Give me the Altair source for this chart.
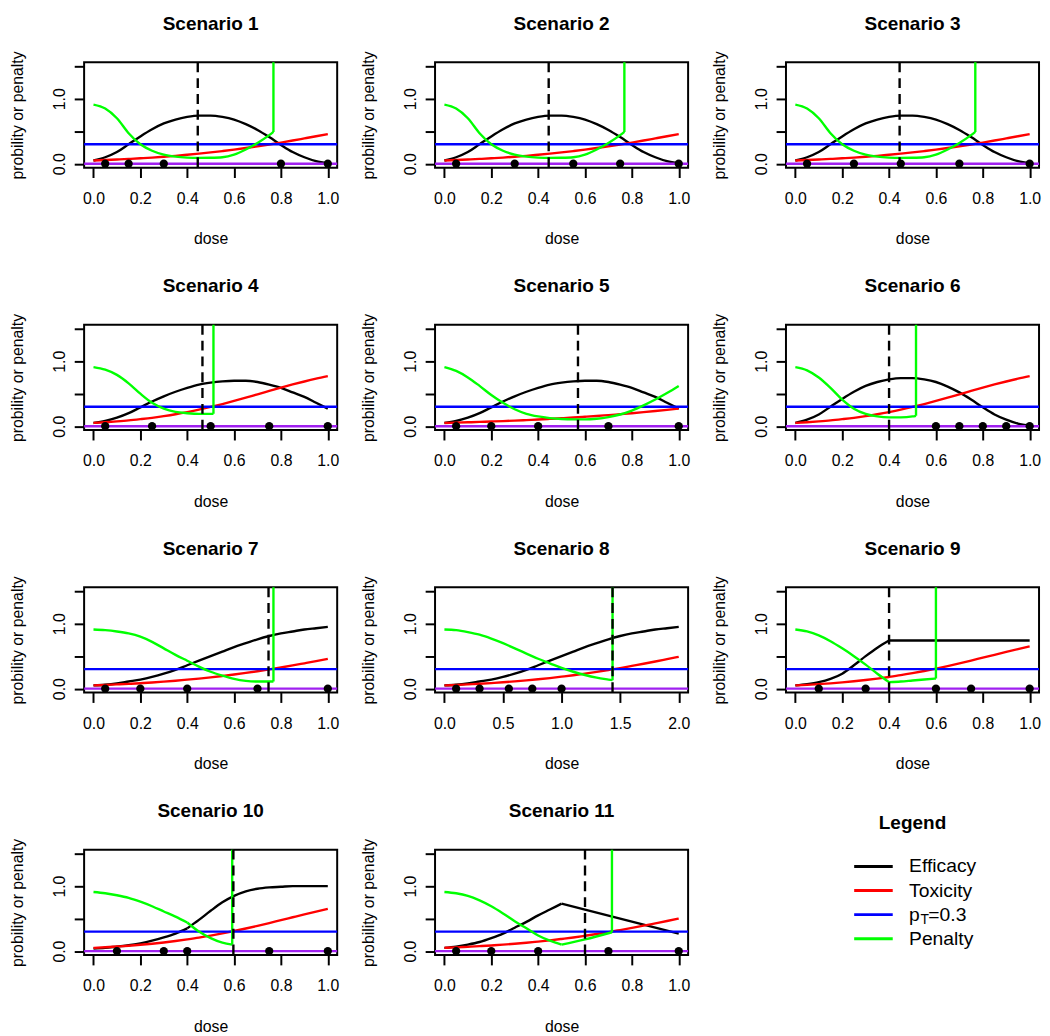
import altair as alt
import pandas as pd

FONT = "Liberation Sans"
BLACK, RED, BLUE, GREEN, PURPLE = "#000000", "#FF0000", "#0000FF", "#00FF00", "#A020F0"

# ---------------- data ----------------
G = [0.0, 0.05, 0.1, 0.15, 0.2, 0.25, 0.3, 0.35, 0.4, 0.45, 0.5,
     0.55, 0.6, 0.65, 0.7, 0.75, 0.8, 0.85, 0.9, 0.95, 1.0]
G2 = [0.0, 0.1, 0.2, 0.3, 0.4, 0.5, 0.6, 0.7, 0.8, 0.9, 1.0,
      1.1, 1.2, 1.3, 1.4, 1.5, 1.6, 1.7, 1.8, 1.9, 2.0]

X_TICKS_1 = [0.0, 0.2, 0.4, 0.6, 0.8, 1.0]
X_TICKS_2 = [0.0, 0.5, 1.0, 1.5, 2.0]
Y_TICKS = [0.0, 0.5, 1.0, 1.5]
P_T = 0.3

TITLES = ["Scenario %d" % i for i in range(1, 12)]

EFF_BELL = [0.05, 0.10, 0.18, 0.30, 0.42, 0.53, 0.62, 0.68, 0.72, 0.74, 0.74,
            0.72, 0.68, 0.61, 0.52, 0.41, 0.29, 0.18, 0.10, 0.04, 0.01]
EFF_HUMP = [0.05, 0.08, 0.13, 0.20, 0.29, 0.38, 0.46, 0.53, 0.59, 0.64, 0.67,
            0.69, 0.70, 0.70, 0.68, 0.64, 0.59, 0.52, 0.45, 0.36, 0.27]
EFF_SIG = [0.05, 0.06, 0.08, 0.11, 0.14, 0.18, 0.23, 0.29, 0.36, 0.43, 0.50,
           0.57, 0.64, 0.70, 0.76, 0.81, 0.85, 0.88, 0.91, 0.93, 0.95]
EFF_S9_X = [0.0, 0.05, 0.1, 0.15, 0.2, 0.25, 0.3, 0.35, 0.4, 1.0]
EFF_S9 = [0.05, 0.07, 0.10, 0.15, 0.23, 0.36, 0.50, 0.63, 0.74, 0.74]
EFF_S10 = [0.04, 0.05, 0.07, 0.09, 0.12, 0.16, 0.21, 0.27, 0.35, 0.48, 0.62,
           0.75, 0.85, 0.92, 0.96, 0.98, 0.99, 1.0, 1.0, 1.0, 1.0]
EFF_S11_X = [0.0, 0.05, 0.1, 0.15, 0.2, 0.25, 0.3, 0.35, 0.4, 0.45, 0.5, 1.0]
EFF_S11 = [0.05, 0.07, 0.10, 0.14, 0.20, 0.27, 0.36, 0.45, 0.55, 0.64, 0.73, 0.27]

TOX_A = [0.05, 0.057, 0.065, 0.074, 0.084, 0.095, 0.108, 0.122, 0.138, 0.155, 0.174,
         0.195, 0.217, 0.242, 0.268, 0.296, 0.326, 0.357, 0.39, 0.423, 0.457]
TOX_B = [0.05, 0.061, 0.074, 0.089, 0.108, 0.129, 0.155, 0.184, 0.217, 0.254, 0.296,
         0.341, 0.389, 0.439, 0.491, 0.542, 0.593, 0.642, 0.688, 0.731, 0.77]
TOX_C = [0.05, 0.055, 0.06, 0.066, 0.072, 0.079, 0.086, 0.094, 0.103, 0.112, 0.122,
         0.133, 0.145, 0.157, 0.171, 0.185, 0.2, 0.216, 0.233, 0.251, 0.27]
TOX_S8 = [0.05, 0.057, 0.066, 0.075, 0.086, 0.098, 0.112, 0.127, 0.144, 0.163, 0.184,
          0.206, 0.231, 0.258, 0.287, 0.317, 0.35, 0.383, 0.418, 0.454, 0.49]
TOX_E = [0.05, 0.059, 0.07, 0.082, 0.097, 0.114, 0.133, 0.155, 0.18, 0.207, 0.238,
         0.272, 0.309, 0.348, 0.389, 0.432, 0.477, 0.521, 0.565, 0.608, 0.65]
TOX_F = [0.05, 0.057, 0.066, 0.076, 0.087, 0.099, 0.113, 0.128, 0.146, 0.165, 0.187,
         0.21, 0.236, 0.263, 0.292, 0.324, 0.357, 0.391, 0.427, 0.463, 0.5]

PEN_S1_X = [0.0, 0.05, 0.1, 0.15, 0.2, 0.25, 0.3, 0.35, 0.4, 0.45, 0.5, 0.55, 0.6, 0.65, 0.7, 0.75, 0.768]
PEN_S1 = [0.91, 0.85, 0.70, 0.47, 0.30, 0.20, 0.14, 0.11, 0.095, 0.09, 0.092, 0.10, 0.14, 0.22, 0.32, 0.44, 0.49]
PEN_S4_X = [0.0, 0.05, 0.1, 0.15, 0.2, 0.25, 0.3, 0.35, 0.4, 0.45, 0.5, 0.512]
PEN_S4 = [0.91, 0.87, 0.79, 0.66, 0.50, 0.36, 0.27, 0.22, 0.20, 0.19, 0.19, 0.19]
PEN_S5 = [0.91, 0.85, 0.75, 0.62, 0.48, 0.36, 0.26, 0.19, 0.15, 0.125, 0.11,
          0.105, 0.105, 0.115, 0.14, 0.18, 0.24, 0.32, 0.41, 0.51, 0.62]
PEN_S6_X = [0.0, 0.05, 0.1, 0.15, 0.2, 0.25, 0.3, 0.35, 0.4, 0.45, 0.5, 0.515]
PEN_S6 = [0.91, 0.86, 0.75, 0.59, 0.41, 0.27, 0.19, 0.15, 0.135, 0.135, 0.15, 0.16]
PEN_S7_X = [0.0, 0.05, 0.1, 0.15, 0.2, 0.25, 0.3, 0.35, 0.4, 0.45, 0.5, 0.55, 0.6, 0.65, 0.7, 0.75, 0.768]
PEN_S7 = [0.91, 0.90, 0.88, 0.85, 0.80, 0.72, 0.62, 0.52, 0.43, 0.34, 0.26, 0.20, 0.15, 0.12, 0.11, 0.11, 0.11]
PEN_S8_X = [0.0, 0.1, 0.2, 0.3, 0.4, 0.5, 0.6, 0.7, 0.8, 0.9, 1.0, 1.1, 1.2, 1.3, 1.4, 1.435]
PEN_S8 = [0.91, 0.90, 0.87, 0.83, 0.77, 0.70, 0.62, 0.54, 0.46, 0.39, 0.32, 0.26, 0.21, 0.17, 0.14, 0.13]
PEN_S9_X = [0.0, 0.05, 0.1, 0.15, 0.2, 0.25, 0.3, 0.35, 0.4, 0.45, 0.5, 0.55, 0.6]
PEN_S9 = [0.91, 0.88, 0.82, 0.73, 0.62, 0.50, 0.37, 0.23, 0.10, 0.11, 0.125, 0.14, 0.155]
PEN_S10_X = [0.0, 0.05, 0.1, 0.15, 0.2, 0.25, 0.3, 0.35, 0.4, 0.45, 0.5, 0.55, 0.592]
PEN_S10 = [0.91, 0.89, 0.86, 0.82, 0.76, 0.69, 0.61, 0.53, 0.44, 0.30, 0.20, 0.13, 0.10]
PEN_S11_X = [0.0, 0.05, 0.1, 0.15, 0.2, 0.25, 0.3, 0.35, 0.4, 0.45, 0.5, 0.6, 0.715]
PEN_S11 = [0.91, 0.89, 0.85, 0.78, 0.69, 0.58, 0.46, 0.35, 0.24, 0.16, 0.10, 0.18, 0.29]

DOSES = [
    [0.05, 0.15, 0.3, 0.8, 1.0],
    [0.05, 0.3, 0.55, 0.75, 1.0],
    [0.05, 0.25, 0.45, 0.7, 1.0],
    [0.05, 0.25, 0.5, 0.75, 1.0],
    [0.05, 0.2, 0.4, 0.7, 1.0],
    [0.6, 0.7, 0.8, 0.9, 1.0],
    [0.05, 0.2, 0.4, 0.7, 1.0],
    [0.1, 0.3, 0.55, 0.75, 1.0],
    [0.1, 0.3, 0.6, 0.75, 1.0],
    [0.1, 0.3, 0.4, 0.75, 1.0],
    [0.05, 0.2, 0.4, 0.7, 1.0],
]
OPT_DOSE = [0.445, 0.445, 0.445, 0.465, 0.57, 0.40, 0.747, 1.435, 0.40, 0.597, 0.60]
HAS_JUMP = [True, True, True, True, False, True, True, True, True, True, True]
X_MAX = [1, 1, 1, 1, 1, 1, 1, 2, 1, 1, 1]

LEG_LABELS = ["Efficacy", "Toxicity", "pT=0.3", "Penalty"]
LEG_COLORS = [BLACK, RED, BLUE, GREEN]

EFFS = [(G, EFF_BELL, []), (G, EFF_BELL, []), (G, EFF_BELL, []), (G, EFF_HUMP, []),
        (G, EFF_HUMP, []), (G, EFF_BELL, []), (G, EFF_SIG, []), (G2, EFF_SIG, []),
        (EFF_S9_X, EFF_S9, [0.4]), (G, EFF_S10, [0.4]), (EFF_S11_X, EFF_S11, [0.5])]
TOXS = [(G, TOX_A, []), (G, TOX_A, []), (G, TOX_A, []), (G, TOX_B, []),
        (G, TOX_C, []), (G, TOX_B, []), (G, TOX_A, []), (G2, TOX_S8, []),
        (G, TOX_E, []), (G, TOX_E, []), (G, TOX_F, [])]
PENS = [(PEN_S1_X, PEN_S1, []), (PEN_S1_X, PEN_S1, []), (PEN_S1_X, PEN_S1, []),
        (PEN_S4_X, PEN_S4, []), (G, PEN_S5, []), (PEN_S6_X, PEN_S6, []),
        (PEN_S7_X, PEN_S7, []), (PEN_S8_X, PEN_S8, []), (PEN_S9_X, PEN_S9, [0.4]),
        (PEN_S10_X, PEN_S10, [0.4]), (PEN_S11_X, PEN_S11, [0.5])]

# ---------------- layout ----------------
W, H = 256, 106.5
LW = 2.4


def frame(xs, ys, breaks):
    rows = []
    for x, y in zip(xs, ys):
        s = sum(1 for b in breaks if x > b + 1e-9)
        rows.append({"x": x, "y": y, "seg": s})
        if any(abs(x - b) < 1e-9 for b in breaks):
            rows.append({"x": x, "y": y, "seg": s + 1})
    return pd.DataFrame(rows)


def title_params(text):
    return alt.TitleParams(text=text, font=FONT, fontSize=19.2, fontWeight="bold",
                           color=BLACK, frame="group", anchor="middle", offset=17)


def panel(i):
    xmax = X_MAX[i]
    xsc = alt.Scale(domain=[-0.04 * xmax, 1.04 * xmax], nice=False, zero=False)
    ysc = alt.Scale(domain=[-0.06, 1.56], nice=False, zero=False)
    xax = alt.Axis(values=X_TICKS_2 if xmax == 2 else X_TICKS_1, format=".1f", title="dose",
                   labelFlush=False, labelOverlap=False, labelBaseline="alphabetic",
                   labelPadding=26, titleY=77, titleBaseline="alphabetic")
    yax = alt.Axis(values=Y_TICKS, format=".1f", title="probility or penalty",
                   labelOverlap=False,
                   labelExpr="(datum.value == 0 || datum.value == 1) ? datum.label : ''",
                   labelAngle=270, labelAlign="center", labelBaseline="alphabetic",
                   labelPadding=10, titleAngle=270, titleX=-62, titleY=H / 2,
                   titleAlign="center", titleBaseline="alphabetic")

    def X(f="x"):
        return alt.X(f + ":Q", scale=xsc, axis=xax)

    def Y(f="y"):
        return alt.Y(f + ":Q", scale=ysc, axis=yax)

    def curve(spec, color):
        return alt.Chart(frame(*spec)).mark_line(
            color=color, strokeWidth=LW, interpolate="monotone", clip=True
        ).encode(x=X(), y=Y(), detail="seg:N")

    layers = [
        curve(EFFS[i], BLACK),
        curve(TOXS[i], RED),
        alt.Chart(pd.DataFrame({"y": [P_T]})).mark_rule(color=BLUE, strokeWidth=LW).encode(y=Y()),
        curve(PENS[i], GREEN),
    ]
    if HAS_JUMP[i]:
        px, py, _ = PENS[i]
        layers.append(
            alt.Chart(pd.DataFrame({"x": [px[-1]], "y": [py[-1]], "y2": [1.7]}))
            .mark_rule(color=GREEN, strokeWidth=LW, clip=True)
            .encode(x=X(), y=Y(), y2="y2:Q")
        )
    doses = DOSES[i]
    layers += [
        alt.Chart(pd.DataFrame({"y": [0.0]})).mark_rule(color=PURPLE, strokeWidth=LW).encode(y=Y()),
        alt.Chart(pd.DataFrame({"x": doses, "y": [0.0] * len(doses)}))
        .mark_circle(color=BLACK, opacity=1, size=70).encode(x=X(), y=Y()),
        alt.Chart(pd.DataFrame({"x": [OPT_DOSE[i]]}))
        .mark_rule(color=BLACK, strokeWidth=LW, strokeDash=[10, 6]).encode(x=X()),
    ]
    return alt.layer(*layers).properties(
        width=W, height=H, title=title_params(TITLES[i]),
        view=alt.ViewBackground(stroke=BLACK, strokeWidth=2),
    )


def legend_panel():
    ly = alt.Y("label:N", scale=alt.Scale(type="point", domain=LEG_LABELS, range=[17, 90], padding=0),
               axis=None)
    ldf = pd.DataFrame({"label": LEG_LABELS, "color": LEG_COLORS})
    rules = alt.Chart(ldf).mark_rule(strokeWidth=3).encode(
        x=alt.value(69), x2=alt.value(108), y=ly, color=alt.Color("color:N", scale=None))
    plain = ldf[ldf["label"] != "pT=0.3"]
    texts = alt.Chart(plain).mark_text(align="left", baseline="middle", font=FONT,
                                       fontSize=19.5, color=BLACK).encode(
        x=alt.value(124.5), y=ly, text="label:N")
    pdf = pd.DataFrame({"label": ["pT=0.3"], "p": ["p"], "sub": ["T"], "rest": ["=0.3"]})
    p_main = alt.Chart(pdf).mark_text(align="left", baseline="middle", font=FONT,
                                      fontSize=19.5, color=BLACK).encode(
        x=alt.value(124.5), y=ly, text="p:N")
    p_sub = alt.Chart(pdf).mark_text(align="left", baseline="middle", font=FONT,
                                     fontSize=14, dy=5, color=BLACK).encode(
        x=alt.value(136), y=ly, text="sub:N")
    p_rest = alt.Chart(pdf).mark_text(align="left", baseline="middle", font=FONT,
                                      fontSize=19.5, color=BLACK).encode(
        x=alt.value(144), y=ly, text="rest:N")
    return alt.layer(rules, texts, p_main, p_sub, p_rest).properties(
        width=W, height=H, title=title_params("Legend"),
        view=alt.ViewBackground(stroke=None),
    )


panels = [panel(i) for i in range(11)] + [legend_panel()]

chart = alt.concat(
    *panels, columns=3, spacing={"row": 158.5, "column": 99}, bounds="flush"
).properties(padding=0, background="white").configure_axis(
    labelFont=FONT, labelFontSize=16, labelColor=BLACK,
    titleFont=FONT, titleFontSize=16, titleFontWeight="normal", titleColor=BLACK,
    tickColor=BLACK, tickSize=10, tickWidth=2, domain=False, grid=False,
).configure_view(stroke=None)

chart.save("out.html", embed_options={"renderer": "svg", "actions": False})
